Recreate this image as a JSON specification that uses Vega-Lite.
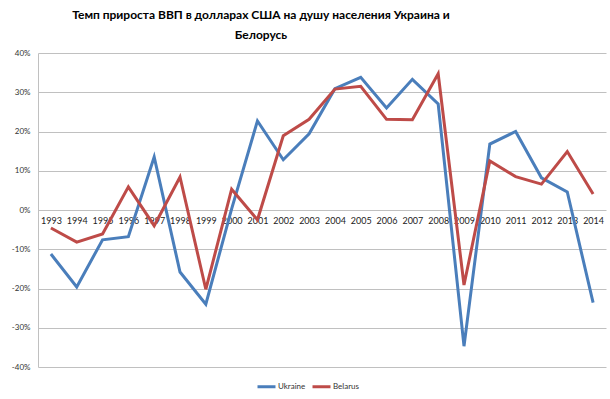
{
  "$schema": "https://vega.github.io/schema/vega-lite/v6.json",
  "width": 568,
  "height": 314,
  "autosize": {"type": "none"},
  "padding": {"left": 38, "top": 53, "right": 4, "bottom": 32},
  "background": "white",
  "config": {"view": {"stroke": null}, "font": "Lato"},
  "title": {
    "text": ["Темп прироста ВВП в долларах США на душу населения Украина и", "Белорусь"],
    "anchor": "middle",
    "frame": "group",
    "fontSize": 12,
    "fontWeight": "bold",
    "font": "Lato",
    "color": "#000000",
    "lineHeight": 20,
    "offset": 7,
    "dx": -61
  },
  "data": {
    "values": [
      {"year": "1993", "country": "Ukraine", "v": -11.2},
      {"year": "1994", "country": "Ukraine", "v": -19.6},
      {"year": "1995", "country": "Ukraine", "v": -7.6},
      {"year": "1996", "country": "Ukraine", "v": -6.8},
      {"year": "1997", "country": "Ukraine", "v": 13.5},
      {"year": "1998", "country": "Ukraine", "v": -15.8},
      {"year": "1999", "country": "Ukraine", "v": -24.0},
      {"year": "2000", "country": "Ukraine", "v": 0.3},
      {"year": "2001", "country": "Ukraine", "v": 22.7},
      {"year": "2002", "country": "Ukraine", "v": 12.8},
      {"year": "2003", "country": "Ukraine", "v": 19.4},
      {"year": "2004", "country": "Ukraine", "v": 30.9},
      {"year": "2005", "country": "Ukraine", "v": 33.8},
      {"year": "2006", "country": "Ukraine", "v": 26.0},
      {"year": "2007", "country": "Ukraine", "v": 33.3},
      {"year": "2008", "country": "Ukraine", "v": 27.0},
      {"year": "2009", "country": "Ukraine", "v": -34.7},
      {"year": "2010", "country": "Ukraine", "v": 16.8},
      {"year": "2011", "country": "Ukraine", "v": 20.0},
      {"year": "2012", "country": "Ukraine", "v": 8.2},
      {"year": "2013", "country": "Ukraine", "v": 4.6},
      {"year": "2014", "country": "Ukraine", "v": -23.6},
      {"year": "1993", "country": "Belarus", "v": -4.6},
      {"year": "1994", "country": "Belarus", "v": -8.2},
      {"year": "1995", "country": "Belarus", "v": -6.1},
      {"year": "1996", "country": "Belarus", "v": 5.9},
      {"year": "1997", "country": "Belarus", "v": -4.0},
      {"year": "1998", "country": "Belarus", "v": 8.4},
      {"year": "1999", "country": "Belarus", "v": -20.2},
      {"year": "2000", "country": "Belarus", "v": 5.3},
      {"year": "2001", "country": "Belarus", "v": -2.5},
      {"year": "2002", "country": "Belarus", "v": 18.9},
      {"year": "2003", "country": "Belarus", "v": 23.1},
      {"year": "2004", "country": "Belarus", "v": 30.8},
      {"year": "2005", "country": "Belarus", "v": 31.5},
      {"year": "2006", "country": "Belarus", "v": 23.1},
      {"year": "2007", "country": "Belarus", "v": 23.0},
      {"year": "2008", "country": "Belarus", "v": 34.7},
      {"year": "2009", "country": "Belarus", "v": -19.1},
      {"year": "2010", "country": "Belarus", "v": 12.5},
      {"year": "2011", "country": "Belarus", "v": 8.5},
      {"year": "2012", "country": "Belarus", "v": 6.6},
      {"year": "2013", "country": "Belarus", "v": 14.9},
      {"year": "2014", "country": "Belarus", "v": 4.1}
    ]
  },
  "mark": {"type": "line", "strokeWidth": 3, "strokeJoin": "miter"},
  "encoding": {
    "x": {
      "field": "year",
      "type": "ordinal",
      "scale": {"type": "point", "padding": 0.5},
      "axis": {
        "title": null,
        "offset": -157,
        "domain": false,
        "ticks": false,
        "grid": false,
        "labelAngle": 0,
        "labelFontSize": 9,
        "labelColor": "#222222",
        "labelPadding": 6,
        "labelFont": "Lato"
      }
    },
    "y": {
      "field": "v",
      "type": "quantitative",
      "scale": {"domain": [-40, 40], "nice": false, "zero": false},
      "axis": {
        "title": null,
        "values": [-40, -30, -20, -10, 0, 10, 20, 30, 40],
        "labelExpr": "datum.value + '%'",
        "labelFontSize": 8,
        "labelColor": "#333333",
        "labelFont": "Lato",
        "labelPadding": 8,
        "ticks": false,
        "domain": true,
        "domainColor": "#c0c0c0",
        "grid": true,
        "gridColor": "#c0c0c0",
        "gridWidth": 1
      }
    },
    "color": {
      "field": "country",
      "type": "nominal",
      "scale": {"domain": ["Ukraine", "Belarus"], "range": ["#4a7ebb", "#be4b48"]},
      "legend": {
        "title": null,
        "orient": "none",
        "direction": "horizontal",
        "legendX": 218,
        "legendY": 323,
        "symbolType": "stroke",
        "symbolSize": 324,
        "symbolStrokeWidth": 3,
        "labelFontSize": 8,
        "labelColor": "#333333",
        "labelFont": "Lato",
        "labelOffset": 1,
        "columnPadding": 0
      }
    }
  }
}
